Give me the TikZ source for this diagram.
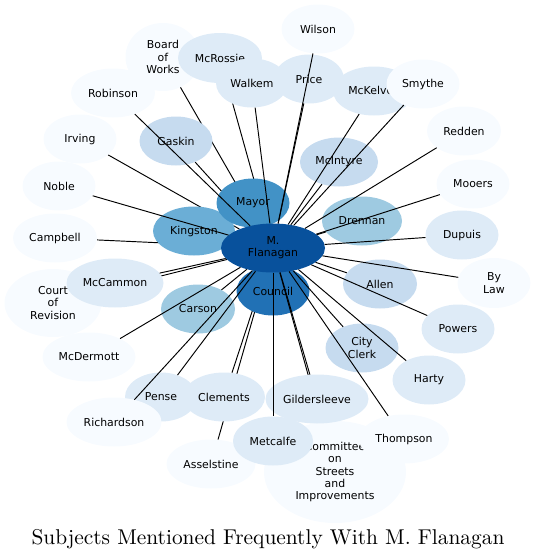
\documentclass[tikz,border=0pt]{standalone}
\usepackage{fontspec}
\newfontfamily\labelfont{DejaVu Sans}
\newfontfamily\titlefont{lmroman10-regular}[Extension=.otf]
\usetikzlibrary{shapes.geometric}
\definecolor{BluesA}{HTML}{F7FBFF}
\definecolor{BluesB}{HTML}{DEEBF7}
\definecolor{BluesC}{HTML}{C6DBEF}
\definecolor{BluesD}{HTML}{9ECAE1}
\definecolor{BluesE}{HTML}{6BAED6}
\definecolor{BluesF}{HTML}{4292C6}
\definecolor{BluesG}{HTML}{2171B5}
\definecolor{BluesH}{HTML}{08519C}
\pgfdeclarelayer{linkslow}
\pgfdeclarelayer{nodeslow}
\pgfdeclarelayer{linksmid}
\pgfsetlayers{linkslow,nodeslow,linksmid,main}

\begin{document}
\begin{tikzpicture}[
      x=1pt,y=-1pt,
      font=\labelfont\fontsize{10.9}{12.2}\selectfont,
      topic/.style={ellipse,inner sep=0pt,minimum width=73pt,minimum height=49pt,align=center},
      link/.style={line width=0.95pt,black}
    ]
      \useasboundingbox (0,0) rectangle (536,560);
      % nodes under the middle links
      \begin{pgfonlayer}{nodeslow}
        \node[topic,fill=BluesG] (council) at (273,291) {Council};
      \end{pgfonlayer}
      % outer ring
      \node[topic,fill=BluesA] (wilson) at (318,29) {Wilson};
      \node[topic,fill=BluesA,minimum width=75pt,minimum height=68pt] (boardworks) at (163,57) {Board\\of\\Works};
      \node[topic,fill=BluesB,minimum width=84pt,minimum height=50pt] (mcrossie) at (220,58) {McRossie};
      \node[topic,fill=BluesB,minimum width=72pt] (walkem) at (252,83) {Walkem};
      \node[topic,fill=BluesB,minimum width=70pt] (price) at (309,79) {Price};
      \node[topic,fill=BluesB,minimum width=82pt] (mckelvey) at (374,91) {McKelvey};
      \node[topic,fill=BluesA] (smythe) at (423,84) {Smythe};
      \node[topic,fill=BluesA,minimum width=84pt] (robinson) at (113,93) {Robinson};
      \node[topic,fill=BluesA] (irving) at (80,139) {Irving};
      \node[topic,fill=BluesA,minimum width=74pt] (redden) at (464,131) {Redden};
      \node[topic,fill=BluesA] (mooers) at (473,184) {Mooers};
      \node[topic,fill=BluesA] (noble) at (59,186) {Noble};
      \node[topic,fill=BluesA,minimum width=84pt] (campbell) at (55,238) {Campbell};
      \node[topic,fill=BluesB] (dupuis) at (462,235) {Dupuis};
      \node[topic,fill=BluesA,minimum height=50pt] (bylaw) at (494,283) {By\\Law};
      \node[topic,fill=BluesA,minimum width=97pt,minimum height=68pt] (court) at (53,303) {Court\\of\\Revision};
      \node[topic,fill=BluesB,minimum width=97pt] (mccammon) at (115,283) {McCammon};
      \node[topic,fill=BluesB] (powers) at (458,329) {Powers};
      \node[topic,fill=BluesA,minimum width=93pt] (mcdermott) at (89,357) {McDermott};
      \node[topic,fill=BluesB] (harty) at (429,380) {Harty};
      \node[topic,fill=BluesB,minimum width=72pt] (pense) at (161,397) {Pense};
      \node[topic,fill=BluesB,minimum width=82pt] (clements) at (224,397) {Clements};
      \node[topic,fill=BluesA,minimum width=95pt] (richardson) at (114,422) {Richardson};
      \node[topic,fill=BluesA,minimum width=89pt] (asselstine) at (211,464) {Asselstine};
      \node[topic,fill=BluesA,minimum width=142pt,minimum height=102pt] (committee) at (335,472) {Committee\\on\\Streets\\and\\Improvements};
      \node[topic,fill=BluesA,minimum width=90pt] (thompson) at (404,439) {Thompson};
      \node[topic,fill=BluesB,minimum width=103pt] (gildersleeve) at (317,399) {Gildersleeve};
      \node[topic,fill=BluesB,minimum width=80pt] (metcalfe) at (273,441) {Metcalfe};
      % inner ring
      \node[topic,fill=BluesC] (gaskin) at (176,141) {Gaskin};
      \node[topic,fill=BluesC,minimum width=78pt] (mcintyre) at (339,162) {McIntyre};
      \node[topic,fill=BluesD,minimum width=80pt] (drennan) at (362,221) {Drennan};
      \node[topic,fill=BluesC,minimum width=74pt] (allen) at (380,284) {Allen};
      \node[topic,fill=BluesC] (cityclerk) at (362,348) {City\\Clerk};
      \node[topic,fill=BluesD,minimum width=74pt] (carson) at (198,309) {Carson};
      \node[topic,fill=BluesE,minimum width=82pt] (kingston) at (194,231) {Kingston};
      \node[topic,fill=BluesF] (mayor) at (253,203) {Mayor};
      \node[topic,fill=BluesH,minimum width=104pt] (flanagan) at (273,248) {M.\\Flanagan};
      % links hidden under the nodes
      \begin{pgfonlayer}{linkslow}
        \draw[link] (flanagan) -- (mcrossie);
        \draw[link] (flanagan) -- (boardworks);
        \draw[link] (flanagan) -- (gaskin);
        \draw[link] (flanagan) -- (irving);
        \draw[link] (flanagan) -- (campbell);
        \draw[link] (flanagan) -- (kingston);
        \draw[link] (flanagan) -- (mayor);
        \draw[link] (flanagan) -- (council);
        \draw[link] (flanagan) -- (court);
        \draw[link] (flanagan) -- (clements);
        \draw[link] (flanagan) -- (asselstine);
      \end{pgfonlayer}
      \begin{pgfonlayer}{linksmid}
        \draw[link] (flanagan) -- (committee);
      \end{pgfonlayer}
      % links over the nodes
      \draw[link] (flanagan) -- (wilson);
      \draw[link] (flanagan) -- (price);
      \draw[link] (flanagan) -- (walkem);
      \draw[link] (flanagan) -- (robinson);
      \draw[link] (flanagan) -- (noble);
      \draw[link] (flanagan) -- (mccammon);
      \draw[link] (flanagan) -- (carson);
      \draw[link] (flanagan) -- (mcdermott);
      \draw[link] (flanagan) -- (pense);
      \draw[link] (flanagan) -- (richardson);
      \draw[link] (flanagan) -- (metcalfe);
      \draw[link] (flanagan) -- (gildersleeve);
      \draw[link] (flanagan) -- (thompson);
      \draw[link] (flanagan) -- (cityclerk);
      \draw[link] (flanagan) -- (harty);
      \draw[link] (flanagan) -- (powers);
      \draw[link] (flanagan) -- (allen);
      \draw[link] (flanagan) -- (bylaw);
      \draw[link] (flanagan) -- (dupuis);
      \draw[link] (flanagan) -- (drennan);
      \draw[link] (flanagan) -- (mooers);
      \draw[link] (flanagan) -- (redden);
      \draw[link] (flanagan) -- (mcintyre);
      \draw[link] (flanagan) -- (smythe);
      \draw[link] (flanagan) -- (mckelvey);
      \node[font=\titlefont\fontsize{21.4}{25}\selectfont] (title) at (268,539) {Subjects Mentioned Frequently With M. Flanagan};
    \end{tikzpicture}
\end{document}
